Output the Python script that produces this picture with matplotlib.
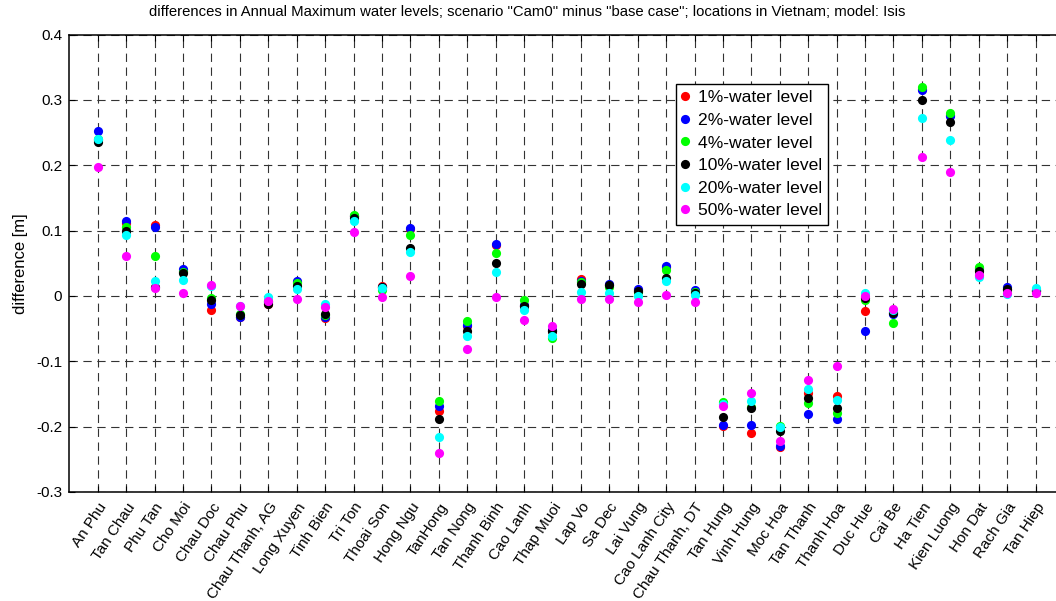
import numpy as np
import matplotlib
matplotlib.use("Agg")
import matplotlib.pyplot as plt

plt.rcParams['font.family'] = ['Liberation Sans', 'DejaVu Sans']
plt.rcParams['lines.scale_dashes'] = False

# locations along the x axis
locations = ["An Phu", "Tan Chau", "Phu Tan", "Cho Moi", "Chau Doc", "Chau Phu",
             "Chau Thanh, AG", "Long Xuyen", "Tinh Bien", "Tri Ton", "Thoai Son",
             "Hong Ngu", "TanHong", "Tan Nong", "Thanh Binh", "Cao Lanh", "Thap Muoi",
             "Lap Vo", "Sa Dec", "Lai Vung", "Cao Lanh City", "Chau Thanh, DT",
             "Tan Hung", "Vinh Hung", "Moc Hoa", "Tan Thanh", "Thanh Hoa", "Duc Hue",
             "Cai Be", "Ha Tien", "Kien Luong", "Hon Dat", "Rach Gia", "Tan Hiep"]

# difference in annual maximum water level [m], "Cam0" minus "base case"
wl_1 = [0.238, 0.112, 0.108, 0.038, -0.022, -0.032, -0.012, 0.021, -0.034, 0.122,
        0.015, 0.102, -0.177, -0.046, 0.078, -0.015, -0.053, 0.026, 0.017, 0.009,
        0.045, 0.007, -0.199, -0.210, -0.232, -0.148, -0.153, -0.023, -0.025, 0.317,
        0.277, 0.040, 0.011, 0.009]
wl_2 = [0.252, 0.115, 0.106, 0.041, -0.013, -0.033, -0.010, 0.023, -0.032, 0.122,
        0.013, 0.104, -0.169, -0.044, 0.080, -0.014, -0.052, 0.023, 0.018, 0.011,
        0.046, 0.009, -0.197, -0.197, -0.230, -0.181, -0.189, -0.054, -0.027, 0.315,
        0.276, 0.042, 0.013, 0.009]
wl_4 = [0.240, 0.106, 0.061, 0.036, -0.003, -0.027, -0.008, 0.019, -0.029, 0.124,
        0.009, 0.093, -0.161, -0.038, 0.065, -0.006, -0.065, 0.021, 0.013, 0.0065,
        0.040, 0.0065, -0.162, -0.170, -0.199, -0.164, -0.180, -0.007, -0.042, 0.320,
        0.280, 0.045, 0.009, 0.008]
wl_10 = [0.235, 0.100, 0.013, 0.035, -0.006, -0.029, -0.012, 0.015, -0.028, 0.120,
         0.014, 0.073, -0.189, -0.054, 0.050, -0.016, -0.054, 0.018, 0.016, 0.008,
         0.027, 0.005, -0.185, -0.171, -0.207, -0.157, -0.171, -0.003, -0.026, 0.300,
         0.266, 0.0386, 0.010, 0.008]
wl_20 = [0.241, 0.093, 0.023, 0.025, 0.015, -0.015, -0.002, 0.010, -0.013, 0.115,
         0.0116, 0.067, -0.216, -0.061, 0.036, -0.0216, -0.062, 0.006, 0.005, 0.0,
         0.023, 0.001, -0.166, -0.161, -0.200, -0.143, -0.159, 0.005, -0.022, 0.273,
         0.238, 0.029, 0.0025, 0.0116]
wl_50 = [0.198, 0.061, 0.0116, 0.004, 0.016, -0.0155, -0.008, -0.004, -0.0165, 0.098,
         -0.001, 0.030, -0.241, -0.082, -0.001, -0.037, -0.046, -0.005, -0.004, -0.009,
         0.001, -0.009, -0.169, -0.148, -0.222, -0.129, -0.108, 0.0, -0.0195, 0.212,
         0.190, 0.0315, 0.005, 0.005]

series = [wl_1, wl_2, wl_4, wl_10, wl_20, wl_50]
labels = ["1%-water level", "2%-water level", "4%-water level",
          "10%-water level", "20%-water level", "50%-water level"]
colours = ["#ff0000", "#0000ff", "#00ff00", "#000000", "#00ffff", "#ff00ff"]

W, H = 1056, 601
fig = plt.figure(figsize=(W / 100, H / 100), dpi=100)
ax = fig.add_axes([69.3 / W, 1 - 491.8 / H, 994.7 / W, 457.1 / H])

x = np.arange(1, len(locations) + 1)
for vals, lab, col in zip(series, labels, colours):
    ax.plot(x, vals, 'o', color=col, markersize=6.6, markeredgewidth=0, label=lab)

ax.set_xlim(0, 35)
ax.set_ylim(-0.3, 0.4)
ax.set_yticks(np.arange(-0.3, 0.41, 0.1))
ax.set_yticklabels(["-0.3", "-0.2", "-0.1", "0", "0.1", "0.2", "0.3", "0.4"], fontsize=11)
ax.set_xticks(x)
ax.set_xticklabels(locations, rotation=56, ha='right', va='top',
                   rotation_mode='anchor', fontsize=11)
ax.tick_params(direction='in', length=4, width=0.8, top=True, right=True, pad=5)
ax.tick_params(axis='x', pad=6)

ax.grid(True, color='0.2', linestyle='--', dashes=(6, 4), linewidth=0.8)
ax.set_axisbelow(True)
for s in ax.spines.values():
    s.set_linewidth(1.1)

ax.set_ylabel("difference [m]", fontsize=12, labelpad=6)

fig.text(0.499, 1 - 12.5 / H,
         'differences in Annual Maximum water levels; scenario "Cam0" minus "base case"; '
         'locations in Vietnam; model: Isis',
         ha='center', va='center', fontsize=10.7)

leg = ax.legend(loc='upper left', bbox_to_anchor=(676 / W, 1 - 84 / H),
                bbox_transform=fig.transFigure, borderaxespad=0, numpoints=1,
                fontsize=12.6, fancybox=False, framealpha=1, edgecolor='black',
                handlelength=0.3, handletextpad=0.6, labelspacing=0.42,
                borderpad=0.35)
leg.get_frame().set_linewidth(1.0)

fig.savefig("out.png", dpi=100)
